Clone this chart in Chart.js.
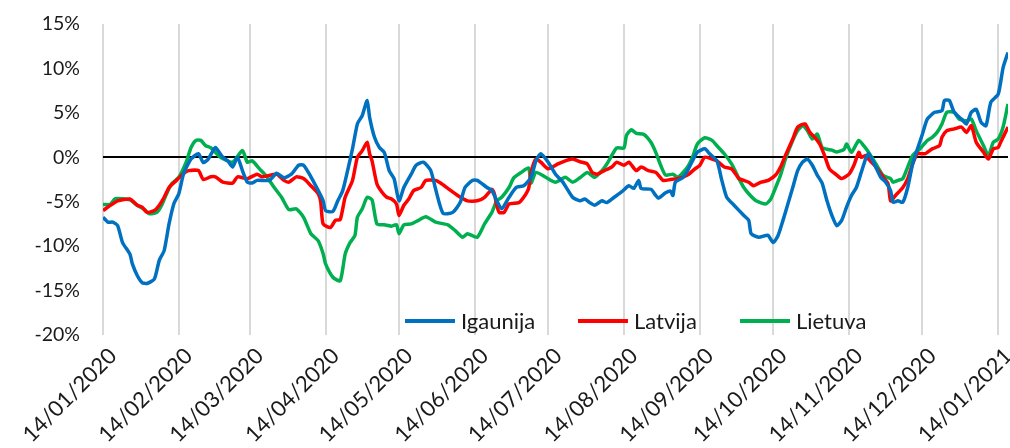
<!DOCTYPE html>
<html>
<head>
<meta charset="utf-8">
<script src="https://cdn.jsdelivr.net/npm/chart.js@4/dist/chart.umd.min.js"></script>
<style>
  body { margin: 0; background: #fff; }
  #wrap { width: 1010px; height: 448px; }
</style>
</head>
<body>
<div id="wrap"><canvas id="line-chart"></canvas></div>
<script>
// days counted from 14/01/2020
const monthDays = [0, 31, 60, 91, 121, 152, 182, 213, 244, 274, 305, 335, 366];
const monthLabels = ["14/01/2020", "14/02/2020", "14/03/2020", "14/04/2020", "14/05/2020", "14/06/2020",
    "14/07/2020", "14/08/2020", "14/09/2020", "14/10/2020", "14/11/2020", "14/12/2020", "14/01/2021"];

const igDays = [0, 2, 4, 6, 8, 11, 12, 14, 16, 18, 21, 23, 25, 27, 29, 31, 33, 36, 39, 41, 43, 45, 46, 49, 51, 53, 55, 57, 59, 61,
    63, 68, 71, 74, 77, 80, 82, 85, 88, 90, 91, 94, 96, 98, 100, 102, 104, 106, 108, 109, 111, 113, 115, 117, 119, 121, 123, 126, 128, 131,
    134, 136, 139, 143, 146, 148, 151, 153, 157, 159, 161, 163, 166, 169, 172, 175, 177, 179, 182, 185, 188, 192, 195, 197, 199, 201, 204, 206, 209, 212,
    215, 217, 219, 220, 224, 226, 227, 230, 232, 233, 234, 237, 239, 241, 243, 246, 248, 251, 253, 255, 258, 262, 264, 265, 268, 271, 272, 274, 276, 278,
    280, 282, 284, 286, 288, 290, 292, 294, 296, 298, 300, 302, 304, 306, 308, 310, 312, 313, 315, 318, 320, 322, 323, 325, 327, 329, 331, 333, 335, 337,
    340, 343, 344, 346, 348, 351, 353, 355, 357, 359, 361, 363, 366, 368, 370];
const igVals = [-6.75, -7.3, -7.3, -7.7, -9.6, -10.9, -12, -13.3, -14.1, -14.2, -13.7, -11.6, -10.5, -7.5, -5.2, -4.1, -1.8, -0.2, 0.4, -0.6, -0.2, 0.75, 1.1, 0, -0.4, -1.1, 0, -1.5, -2.8, -2.9,
    -2.6, -2.6, -1.8, -2.3, -1.9, -0.9, -0.9, -2.2, -3.75, -4.9, -6.0, -6.1, -4.9, -3.75, -1.5, 0.95, 3.75, 4.7, 6.4, 4.5, 2.25, 1.1, 0.56, -1.5, -2.4, -4.9, -3.4, -1.9, -0.9, -0.55,
    -1.5, -3.6, -6.3, -6.2, -5.1, -3.4, -2.6, -2.6, -3.4, -3.75, -4.9, -5.8, -4.5, -3.4, -3.2, -2.25, -0.4, 0.4, -0.55, -1.9, -2.8, -4.5, -4.9, -4.7, -5.1, -5.4, -4.9, -5.1, -4.5, -3.9,
    -3.2, -3.5, -2.6, -3.5, -3.6, -4.3, -4.6, -4.0, -3.8, -4.3, -2.8, -2.3, -1.5, -0.4, 0.56, 0.95, 0.4, -0.4, -2.6, -4.5, -5.4, -6.55, -7.1, -8.6, -9.0, -8.8, -8.8, -9.6, -8.8, -7.1,
    -5.25, -3.4, -1.5, -0.55, -0.2, -0.9, -2.0, -2.9, -4.9, -6.55, -7.7, -7.1, -5.6, -4.3, -3.4, -1.7, 0, 0.4, -0.55, -2.25, -2.8, -3.75, -5.06, -4.9, -5.06, -3.4, -0.75, 0.95, 2.6, 4.3,
    5.06, 5.25, 6.4, 6.4, 5.06, 4.3, 3.75, 5.06, 5.4, 3.94, 3.55, 6.2, 7.1, 10.1, 11.8];

const lvDays = [0, 2, 6, 11, 14, 16, 18, 21, 23, 25, 27, 30, 33, 35, 39, 41, 44, 46, 49, 53, 55, 59, 63, 65, 71, 74, 76, 79, 82, 85,
    88, 89, 90, 93, 95, 97, 99, 102, 104, 106, 108, 109, 110, 112, 114, 116, 118, 120, 121, 123, 125, 127, 130, 132, 136, 138, 141, 145, 149, 153,
    156, 159, 160, 161, 162, 164, 166, 170, 172, 174, 175, 177, 179, 182, 186, 189, 192, 195, 198, 200, 202, 205, 208, 210, 213, 215, 218, 220, 223, 226,
    229, 232, 235, 239, 242, 244, 246, 249, 251, 254, 257, 260, 262, 264, 266, 269, 272, 275, 277, 279, 282, 284, 287, 289, 291, 293, 295, 297, 300, 302,
    305, 307, 309, 310, 312, 313, 316, 319, 321, 322, 324, 327, 329, 331, 333, 336, 339, 342, 343, 345, 348, 351, 353, 355, 357, 360, 362, 364, 366, 367, 370];
const lvVals = [-6.0, -5.6, -4.9, -4.7, -5.4, -5.6, -6.2, -6.0, -5.4, -4.5, -3.4, -2.6, -1.8, -1.5, -1.5, -2.5, -2.2, -2.2, -2.8, -2.9, -2.2, -2.4, -1.9, -2.2, -1.9, -2.6, -2.8, -2.2, -2.4, -3.2,
    -4.1, -5.0, -7.5, -7.9, -7.1, -7.0, -4.5, -2.6, 0, 0.75, 1.7, 0.4, -0.4, -3.0, -3.9, -4.5, -4.7, -5.25, -6.55, -5.4, -4.7, -3.75, -3.4, -2.6, -2.6, -2.9, -3.5, -4.3, -4.9, -4.9,
    -4.5, -3.6, -4.1, -5.4, -6.2, -6.2, -5.25, -5.1, -4.5, -3.5, -1.7, -0.2, -0.55, -1.3, -0.75, -0.4, -0.2, -0.5, -0.75, -1.7, -1.9, -1.5, -1.1, -0.55, -0.9, -0.55, -1.5, -1.1, -1.5, -1.7,
    -2.6, -2.5, -2.4, -2.0, -1.3, -0.9, 0, -0.2, -0.4, -1.1, -1.3, -2.4, -2.6, -2.8, -3.2, -2.8, -2.6, -2.0, -1.1, 0.2, 2.05, 3.4, 3.75, 2.8, 2.25, 1.5, 0.2, -1.3, -2.0, -2.4,
    -1.9, -0.9, 0.56, 0, 0.2, -0.2, -1.1, -2.25, -3.0, -4.9, -4.3, -3.4, -2.4, -0.75, 0.4, 0.4, 0.95, 1.3, 2.25, 3.0, 3.2, 3.4, 2.8, 3.55, 1.7, 0.56, -0.2, 0.95, 1.1, 1.7, 3.4];

const ltDays = [0, 3, 5, 11, 14, 17, 19, 22, 24, 26, 28, 31, 34, 36, 38, 40, 42, 44, 48, 53, 57, 59, 61, 64, 67, 70, 73, 76, 79, 82,
    85, 88, 90, 91, 94, 97, 99, 101, 103, 104, 106, 108, 110, 112, 115, 118, 120, 121, 123, 126, 129, 132, 136, 141, 144, 147, 149, 153, 156, 159,
    161, 163, 166, 168, 171, 174, 175, 177, 181, 185, 189, 192, 195, 198, 201, 204, 206, 208, 210, 213, 214, 216, 218, 221, 224, 226, 228, 230, 233, 235,
    239, 241, 243, 246, 249, 251, 254, 257, 260, 262, 264, 267, 271, 273, 275, 277, 279, 282, 284, 286, 288, 290, 292, 294, 296, 298, 300, 303, 304, 306,
    309, 311, 313, 316, 319, 322, 323, 325, 327, 329, 331, 334, 337, 339, 341, 343, 345, 348, 350, 353, 355, 357, 360, 362, 364, 366, 368, 370];
const ltVals = [-5.3, -5.3, -4.65, -4.8, -5.4, -5.9, -6.35, -6.2, -5.4, -4.1, -3.0, -2.25, -0.55, 1.1, 1.9, 1.9, 1.3, 1.1, 0, -0.55, 0.75, -0.55, -0.4, -1.3, -2.2, -3.4, -4.5, -5.9, -5.8, -6.75,
    -8.6, -9.4, -10.85, -12, -13.5, -13.9, -10.9, -9.6, -8.8, -6.75, -5.8, -4.5, -4.8, -7.5, -7.6, -7.75, -7.6, -8.6, -7.6, -7.5, -7.1, -6.7, -7.3, -7.6, -8.25, -9.0, -8.6, -9.0, -7.5, -6.2,
    -4.9, -4.5, -3.4, -2.3, -1.7, -1.2, -2.9, -1.7, -2.25, -2.8, -2.25, -2.8, -2.3, -1.7, -2.25, -1.5, -0.75, 0.2, 1.05, 1.05, 2.45, 3.1, 2.7, 2.6, 1.7, 0.56, -0.9, -2.0, -1.9, -2.25,
    -1.1, 0, 1.5, 2.2, 1.9, 1.3, 0.4, -0.75, -2.4, -3.4, -4.1, -4.9, -5.25, -4.7, -3.4, -2.0, -0.2, 1.9, 3.0, 3.55, 3.0, 2.05, 2.6, 1.1, 0.9, 0.8, 0.6, 0.9, 1.5, 0.56,
    1.9, 1.3, 0.56, -0.75, -2.05, -2.4, -2.8, -2.6, -2.4, -1.1, 0.2, 0.95, 1.9, 2.25, 2.8, 3.75, 5.06, 5.06, 4.3, 4.1, 4.3, 3.0, 1.3, 0.2, 1.7, 2.05, 3.4, 6.0];

const toPoints = (days, vals) => days.map((d, i) => ({ x: d, y: vals[i] }));

const series = [
    { label: "Igaunija", color: "#0070C0", data: toPoints(igDays, igVals) },
    { label: "Latvija", color: "#FF0000", data: toPoints(lvDays, lvVals) },
    { label: "Lietuva", color: "#00B050", data: toPoints(ltDays, ltVals) }
];

const fontFamily = "Lato, 'Open Sans', sans-serif";
// where each legend entry starts, measured from the left edge of the plot
const legendStarts = [302, 475, 637];

// legend drawn inside the plot area, near the bottom
const innerLegend = {
    id: 'innerLegend',
    afterDraw(chart) {
        const ctx = chart.ctx;
        const area = chart.chartArea;
        const y = area.bottom - 14;
        ctx.save();
        ctx.font = "22px " + fontFamily;
        ctx.textBaseline = 'middle';
        chart.data.datasets.forEach((ds, i) => {
            const x = area.left + legendStarts[i];
            ctx.strokeStyle = ds.borderColor;
            ctx.lineWidth = 4;
            ctx.beginPath();
            ctx.moveTo(x, y);
            ctx.lineTo(x + 50, y);
            ctx.stroke();
            ctx.fillStyle = '#1a1a1a';
            ctx.fillText(ds.label, x + 56, y + 1);
        });
        ctx.restore();
    }
};

new Chart(document.getElementById("line-chart"), {
    type: 'line',
    data: {
        datasets: series.map(s => ({
            label: s.label,
            data: s.data,
            borderColor: s.color,
            backgroundColor: s.color,
            borderWidth: 3.5,
            pointRadius: 0,
            tension: 0.2,
            fill: false
        }))
    },
    options: {
        responsive: true,
        maintainAspectRatio: false,
        animation: false,
        layout: { padding: { top: 24, right: 2, left: 0, bottom: 0 } },
        plugins: {
            legend: { display: false },
            tooltip: { enabled: false }
        },
        scales: {
            x: {
                type: 'linear',
                min: 0,
                max: 370,
                afterBuildTicks: axis => {
                    axis.ticks = monthDays.map(v => ({ value: v }));
                },
                afterFit: scale => {
                    scale.height = 113;
                    scale.paddingLeft = 0;
                    scale.paddingRight = 0;
                },
                ticks: {
                    autoSkip: false,
                    minRotation: 45,
                    maxRotation: 45,
                    padding: 8,
                    labelOffset: 10,
                    color: '#1a1a1a',
                    font: { family: fontFamily, size: 22 },
                    callback: (value, index) => monthLabels[index]
                },
                grid: { color: '#d9d9d9', lineWidth: 2, drawTicks: false },
                border: { display: false }
            },
            y: {
                min: -20,
                max: 15,
                afterFit: scale => {
                    scale.width = 103;
                    scale.paddingTop = 0;
                    scale.paddingBottom = 0;
                },
                ticks: {
                    stepSize: 5,
                    padding: 23,
                    color: '#1a1a1a',
                    font: { family: fontFamily, size: 19.5 },
                    callback: v => v + '%'
                },
                grid: {
                    drawTicks: false,
                    lineWidth: 2,
                    color: ctx => (ctx.tick && ctx.tick.value === 0) ? '#000000' : 'rgba(0,0,0,0)'
                },
                border: { display: false }
            }
        }
    },
    plugins: [innerLegend]
});
</script>
</body>
</html>
